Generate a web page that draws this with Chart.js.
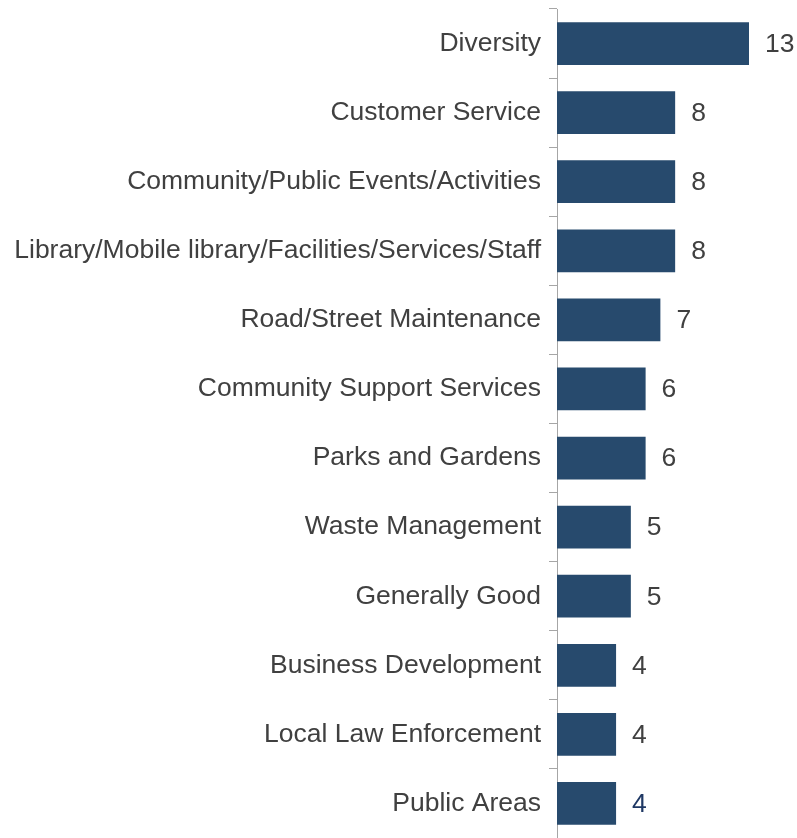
<!DOCTYPE html>
<html>
<head>
<meta charset="utf-8">
<script src="https://cdn.jsdelivr.net/npm/chart.js@4"></script>
<style>
  html, body { margin: 0; padding: 0; background: #fff; }
  #wrap { width: 797px; height: 838px; position: relative; }
</style>
</head>
<body>
<div id="wrap"><canvas id="barChart"></canvas></div>
<script>
var categories = [
    'Diversity',
    'Customer Service',
    'Community/Public Events/Activities',
    'Library/Mobile library/Facilities/Services/Staff',
    'Road/Street Maintenance',
    'Community Support Services',
    'Parks and Gardens',
    'Waste Management',
    'Generally Good',
    'Business Development',
    'Local Law Enforcement',
    'Public Areas'
];
var counts = [13, 8, 8, 8, 7, 6, 6, 5, 5, 4, 4, 4];
var labelColors = ['#404040', '#404040', '#404040', '#404040', '#404040', '#404040',
                   '#404040', '#404040', '#404040', '#404040', '#404040', '#1F3864'];

var FONT = '"Liberation Sans", Arial, sans-serif';

// writes each count just past the end of its bar
var valueLabels = {
    id: 'valueLabels',
    afterDatasetsDraw: function (chart) {
        var ctx = chart.ctx;
        var meta = chart.getDatasetMeta(0);
        ctx.save();
        ctx.font = '26.5px ' + FONT;
        ctx.textAlign = 'left';
        ctx.textBaseline = 'middle';
        meta.data.forEach(function (bar, i) {
            ctx.fillStyle = labelColors[i];
            ctx.fillText(String(counts[i]), bar.x + 16, bar.y + 1);
        });
        ctx.restore();
    }
};

var ctx = document.getElementById('barChart').getContext('2d');
var barChart = new Chart(ctx, {
    type: 'bar',
    data: {
        labels: categories,
        datasets: [{
            data: counts,
            backgroundColor: '#274A6D',
            barPercentage: 0.62,
            categoryPercentage: 1
        }]
    },
    options: {
        indexAxis: 'y',
        responsive: true,
        maintainAspectRatio: false,
        animation: false,
        layout: { padding: { top: 9, right: 48, bottom: 0, left: 0 } },
        plugins: {
            legend: { display: false },
            tooltip: { enabled: false }
        },
        scales: {
            x: {
                display: false,
                min: 0,
                max: 13
            },
            y: {
                afterFit: function (scale) {
                    // fixed label column, and no extra room above/below for the tick text
                    scale.width = 557;
                    scale.paddingTop = 0;
                    scale.paddingBottom = 0;
                },
                border: { display: true, color: '#A6A6A6', width: 1 },
                grid: {
                    offset: true,
                    drawOnChartArea: false,
                    drawTicks: true,
                    tickLength: 8,
                    color: '#A6A6A6'
                },
                ticks: {
                    padding: 8,
                    color: '#404040',
                    font: { family: FONT, size: 26.5 }
                }
            }
        }
    },
    plugins: [valueLabels]
});
</script>
</body>
</html>
